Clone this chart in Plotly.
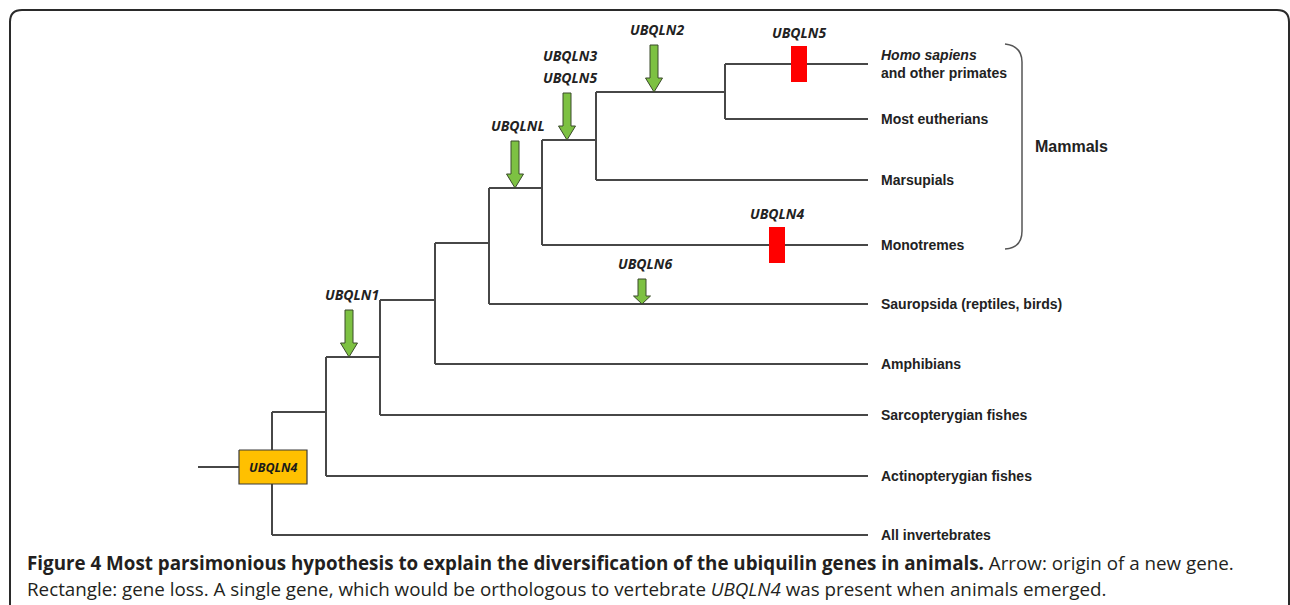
import plotly.graph_objects as go

# ---------------- data ----------------
tip_labels = ["<i>Homo sapiens</i><br>and other primates", "Most eutherians", "Marsupials",
              "Monotremes", "Sauropsida (reptiles, birds)", "Amphibians",
              "Sarcopterygian fishes", "Actinopterygian fishes", "All invertebrates"]
tip_y = [64, 119, 180, 245, 304, 364, 415, 476, 535]
tip_end_x = 868

# internal nodes from crown to root
node_x = [725, 596, 542, 489, 435, 380, 326, 272]
clade_y = [92, 140, 188, 243, 300, 357, 412]   # stem y of clade subtended by node k
root_stem = (198, 467)

# gene origins (arrows)
arrow_genes = ["UBQLN1", "UBQLNL", "UBQLN3\nUBQLN5", "UBQLN2", "UBQLN6"]
arrow_x = [349, 515, 567, 654, 642]
arrow_tip_y = [357, 188, 140, 92, 304]
arrow_len = [47, 47, 47, 47, 25]

# gene losses (rectangles)
loss_genes = ["UBQLN5", "UBQLN4"]
loss_x = [799, 777]
loss_y = [64, 245]

ancestral_gene = "UBQLN4"
group_label = "Mammals"

caption_1 = ("<b>Figure 4 Most parsimonious hypothesis to explain the diversification of the "
             "ubiquilin genes in animals.</b> Arrow: origin of a new gene.")
caption_2 = ("Rectangle: gene loss. A single gene, which would be orthologous to vertebrate "
             "<i>UBQLN4</i> was present when animals emerged.")

# ---------------- figure ----------------
LINE = "#474747"
fig = go.Figure()

def seg(xs, ys, color=LINE, width=2):
    fig.add_trace(go.Scatter(x=xs, y=ys, mode="lines", line=dict(color=color, width=width),
                             hoverinfo="skip", showlegend=False))

# tree edges
for k, nx in enumerate(node_x):
    top = tip_y[0] if k == 0 else clade_y[k - 1]
    bot = tip_y[k + 1]
    seg([nx, nx], [top, bot])
    seg([nx, tip_end_x], [bot, bot])
    if k == 0:
        seg([nx, tip_end_x], [top, top])
    else:
        seg([nx, node_x[k - 1]], [top, top])
seg([root_stem[0], node_x[-1]], [root_stem[1], root_stem[1]])

# ancestral box
bw, bh = 34, 17
rx = node_x[-1] + 1
fig.add_trace(go.Scatter(x=[rx - bw, rx + bw, rx + bw, rx - bw, rx - bw],
                         y=[root_stem[1] - bh, root_stem[1] - bh, root_stem[1] + bh, root_stem[1] + bh, root_stem[1] - bh],
                         mode="lines", fill="toself", fillcolor="#FFC000",
                         line=dict(color="#3a3a3a", width=1.2), hoverinfo="skip", showlegend=False))
fig.add_annotation(x=rx, y=root_stem[1], text="<b><i>" + ancestral_gene + "</i></b>", showarrow=False,
                   font=dict(family="Open Sans", size=12.5, color="#1a1a1a"), xanchor="center", yanchor="middle")

# arrows
hw, HW = 4, 8.5
for g, ax, ty, L in zip(arrow_genes, arrow_x, arrow_tip_y, arrow_len):
    top = ty - L
    H = 14 if L > 30 else 8
    xs = [ax - hw, ax + hw, ax + hw, ax + HW, ax, ax - HW, ax - hw, ax - hw]
    ys = [top, top, ty - H, ty - H, ty, ty - H, ty - H, top]
    fig.add_trace(go.Scatter(x=xs, y=ys, mode="lines", fill="toself", fillcolor="#7DC142",
                             line=dict(color="#3b4a2b", width=1), hoverinfo="skip", showlegend=False))
    lines = g.split("\n")
    for i, t in enumerate(reversed(lines)):
        fig.add_annotation(x=ax + 3, y=top - 16 - 22 * i, text="<b><i>" + t + "</i></b>", showarrow=False,
                           font=dict(family="Open Sans", size=14, color="#222"),
                           xanchor="center", yanchor="middle")

# losses
lw, lh = 8, 18
for g, lx, ly in zip(loss_genes, loss_x, loss_y):
    fig.add_trace(go.Scatter(x=[lx - lw, lx + lw, lx + lw, lx - lw, lx - lw],
                             y=[ly - lh, ly - lh, ly + lh, ly + lh, ly - lh],
                             mode="lines", fill="toself", fillcolor="#FF0000",
                             line=dict(color="#FF0000", width=0), hoverinfo="skip", showlegend=False))
    fig.add_annotation(x=lx, y=ly - lh - 14, text="<b><i>" + g + "</i></b>", showarrow=False,
                       font=dict(family="Open Sans", size=14, color="#222"),
                       xanchor="center", yanchor="middle")

# tip labels
for lab, y in zip(tip_labels, tip_y):
    fig.add_annotation(x=879, y=y, text="<b>" + lab + "</b>", showarrow=False, align="left",
                       font=dict(family="Liberation Sans", size=14, color="#222"),
                       xanchor="left", yanchor="middle")

# mammals bracket
fig.add_shape(type="path", path="M 1005,44 Q 1022,46 1022,62 L 1022,231 Q 1022,248 1005,249",
              line=dict(color="#555", width=1.5), xref="x", yref="y")
fig.add_annotation(x=1033, y=146, text="<b>" + group_label + "</b>", showarrow=False,
                   font=dict(family="Liberation Sans", size=16, color="#222"),
                   xanchor="left", yanchor="middle")

# frame
fig.add_shape(type="path", path="M 10,610 L 10,22 Q 10,10 22,10 L 1277,10 Q 1289,10 1289,22 L 1289,610",
              line=dict(color="#2a2a2a", width=2), xref="x", yref="y")

# caption
fig.add_annotation(x=25, y=563, text=caption_1, showarrow=False, xanchor="left", yanchor="middle",
                   font=dict(family="Open Sans", size=18.8, color="#231f20"))
fig.add_annotation(x=25, y=589, text=caption_2, showarrow=False, xanchor="left", yanchor="middle",
                   font=dict(family="Open Sans", size=18.8, color="#231f20"))

fig.update_layout(width=1290, height=605, autosize=False,
                  margin=dict(l=0, r=0, t=0, b=0),
                  paper_bgcolor="white", plot_bgcolor="white",
                  xaxis=dict(range=[0, 1290], visible=False, fixedrange=True),
                  yaxis=dict(range=[605, 0], visible=False, fixedrange=True),
                  showlegend=False)

fig.write_html("out.html", config={"displayModeBar": False},
               post_script="document.body.style.margin='0px';document.body.style.overflow='hidden';")
